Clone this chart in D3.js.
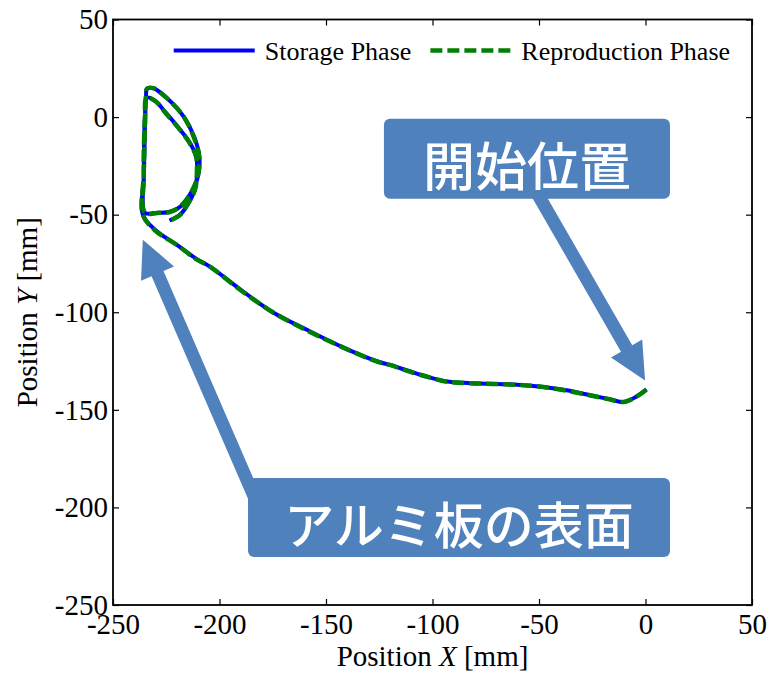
<!DOCTYPE html>
<html lang="ja">
<head>
<meta charset="UTF-8">
<title>Position trajectory</title>
<script src="https://d3js.org/d3.v7.min.js"></script>
<style>
  body { margin: 0; background: #fff; }
  svg text { font-family: "Liberation Serif", "Times New Roman", serif; fill: #000; }
  .callout text { font-family: "Noto Sans CJK JP", sans-serif; font-weight: 500; fill: #fff; }
</style>
</head>
<body>
<svg width="771" height="675"></svg>
<script>
// storage phase trajectory [x mm, y mm]
const storageX = [0.5, -4, -10, -17, -26, -37, -50, -62, -78, -93, -101, -110, -120, -125, -140, -159, -175, -190, -204, -211, -220, -230, -236,
  -235.5, -235, -234.5, -234, -231, -225, -217, -212, -209.5, -210, -213, -218, -223, -229, -235,
  -235.5, -235, -234, -230, -225, -218.5, -214, -211, -210.5, -211.5, -215, -218.5, -223.5];
const storageY = [-139.5, -143, -146, -144.5, -142.5, -140, -138, -137, -136.5, -135.5, -133.5, -130.5, -127, -125.5, -119, -109, -100, -88.5, -77, -72.5, -65.5, -58, -50,
  -30, -5, 10, 14.5, 14.8, 10, 0.5, -9.8, -20, -30, -38, -45.5, -48.5, -49, -49,
  -30, 0, 10, 8, 2, -6.5, -13, -20, -28, -37, -45, -50, -53];
// reproduction phase trajectory [x mm, y mm]
const reproX = [0.3, -4.2, -10.2, -17, -26.2, -37, -50.2, -62, -78, -93.2, -101, -110.2, -120, -125.2, -140, -159.2, -175, -190.2, -204, -211.2, -220, -230.2, -236,
  -235.6, -235, -234.6, -234, -231, -225.2, -217, -212.2, -209.5, -210.2, -213, -218.2, -223, -229.2, -235,
  -235.6, -235, -234.2, -230, -225.2, -218.5, -214.2, -211, -210.6, -211.5, -215.2, -218.5, -223.6];
const reproY = [-139.7, -143.2, -146, -144.6, -142.5, -140.2, -138, -137.1, -136.5, -135.6, -133.5, -130.6, -127, -125.6, -119, -109.2, -100, -88.6, -77, -72.6, -65.5, -58.2, -50,
  -30, -5.2, 10, 14.6, 14.8, 10.2, 0.5, -9.9, -20, -30.2, -38, -45.6, -48.5, -49.1, -49,
  -30, 0.2, 10, 8.1, 2, -6.6, -13, -20.1, -28, -37.2, -45, -50.1, -53.2];

const xTicks = [-250, -200, -150, -100, -50, 0, 50];
const yTicks = [50, 0, -50, -100, -150, -200, -250];
const seriesNames = ["Storage Phase", "Reproduction Phase"];
const seriesColors = ["#0000ff", "#008000"];

// callouts: text, box corners [x0, x1, y0, y1] and arrow tail/tip, all in mm
const callouts = [
  { label: "開始位置", box: [-122.8, 11.5, -0.8, -41.8], tail: [-53.5, -34], tip: [-0.2, -135], size: 52 },
  { label: "アルミ板の表面", box: [-186.6, 11.5, -184.9, -225.4], tail: [-183.5, -195], tip: [-236, -62.8], size: 50 }
];

const serif = "Liberation Serif, Times New Roman, serif";
const margin = { top: 19.5, right: 19, bottom: 70, left: 113 };
const width = 771 - margin.left - margin.right;
const height = 675 - margin.top - margin.bottom;

const svg = d3.select("svg");
const g = svg.append("g").attr("transform", `translate(${margin.left},${margin.top})`);

const x = d3.scaleLinear().domain([-250, 50]).range([0, width]);
const y = d3.scaleLinear().domain([-250, 50]).range([height, 0]);
const fmt = d => String(d);

// axes with inward ticks
g.append("g").attr("transform", `translate(0,${height})`)
  .call(d3.axisBottom(x).tickValues(xTicks).tickSize(-6).tickPadding(8).tickFormat(fmt));
g.append("g")
  .call(d3.axisLeft(y).tickValues(yTicks).tickSize(-6).tickPadding(5).tickFormat(fmt));
g.append("g")
  .call(d3.axisTop(x).tickValues(xTicks).tickSize(-6).tickFormat(""));
g.append("g").attr("transform", `translate(${width},0)`)
  .call(d3.axisRight(y).tickValues(yTicks).tickSize(-6).tickFormat(""));
g.selectAll(".domain").remove();
g.selectAll(".tick line").attr("stroke", "#000").attr("stroke-width", 1.2);
g.selectAll(".tick text").attr("font-family", serif).attr("font-size", 29).attr("fill", "#000");
g.append("rect").attr("width", width).attr("height", height)
  .attr("fill", "none").attr("stroke", "#000").attr("stroke-width", 1.8);

// trajectories
const line = d3.line().x(d => x(d[0])).y(d => y(d[1])).curve(d3.curveCatmullRom.alpha(0.5));
const storage = storageX.map((v, i) => [v, storageY[i]]);
const repro = reproX.map((v, i) => [v, reproY[i]]);

g.append("path").datum(storage).attr("d", line)
  .attr("fill", "none").attr("stroke", seriesColors[0]).attr("stroke-width", 4)
  .attr("stroke-linejoin", "round");
g.append("path").datum(repro).attr("d", line)
  .attr("fill", "none").attr("stroke", seriesColors[1]).attr("stroke-width", 4.5)
  .attr("stroke-dasharray", "12,5");

// legend
const legend = g.append("g");
const legendX = [x(-221.5), x(-101)];
seriesNames.forEach((name, i) => {
  const lx = legendX[i];
  const ly = 31;
  legend.append("line").attr("x1", lx).attr("x2", lx + 81).attr("y1", ly).attr("y2", ly)
    .attr("stroke", seriesColors[i]).attr("stroke-width", i ? 4.5 : 4)
    .attr("stroke-dasharray", i ? "12,5" : null);
  legend.append("text").attr("x", lx + 91).attr("y", ly + 9)
    .attr("font-family", serif).attr("font-size", 26).text(name);
});

// callouts (arrow under the box)
const blue = "#4f81bd";
callouts.forEach(c => {
  const cg = g.append("g").attr("class", "callout");
  const tx = x(c.tail[0]), ty = y(c.tail[1]);
  const px = x(c.tip[0]), py = y(c.tip[1]);
  const len = Math.hypot(px - tx, py - ty);
  const ux = (px - tx) / len, uy = (py - ty) / len;
  const nx = -uy, ny = ux;
  const sw = 6.5, hw = 18, hl = 37;
  const bx = px - ux * hl, by = py - uy * hl;
  const pts = [
    [tx + nx * sw, ty + ny * sw], [bx + nx * sw, by + ny * sw], [bx + nx * hw, by + ny * hw],
    [px, py],
    [bx - nx * hw, by - ny * hw], [bx - nx * sw, by - ny * sw], [tx - nx * sw, ty - ny * sw]
  ];
  cg.append("polygon").attr("points", pts.map(p => p.join(",")).join(" ")).attr("fill", blue);
  const x0 = x(c.box[0]), x1 = x(c.box[1]), y0 = y(c.box[2]), y1 = y(c.box[3]);
  cg.append("rect").attr("x", x0).attr("y", y0).attr("width", x1 - x0).attr("height", y1 - y0)
    .attr("rx", 6).attr("fill", blue);
  cg.append("text").attr("x", (x0 + x1) / 2).attr("y", (y0 + y1) / 2 + 5)
    .attr("text-anchor", "middle").attr("dominant-baseline", "central")
    .attr("font-size", c.size + "px").text(c.label);
});

// axis titles
const xt = svg.append("text").attr("x", margin.left + x(-100)).attr("y", 666)
  .attr("text-anchor", "middle").attr("font-family", serif).attr("font-size", 29);
xt.append("tspan").text("Position ");
xt.append("tspan").attr("font-style", "italic").text("X");
xt.append("tspan").text(" [mm]");

const yt = svg.append("text").attr("transform", `translate(37,${margin.top + y(-100)}) rotate(-90)`)
  .attr("text-anchor", "middle").attr("font-family", serif).attr("font-size", 29);
yt.append("tspan").text("Position ");
yt.append("tspan").attr("font-style", "italic").text("Y");
yt.append("tspan").text(" [mm]");
</script>
</body>
</html>
